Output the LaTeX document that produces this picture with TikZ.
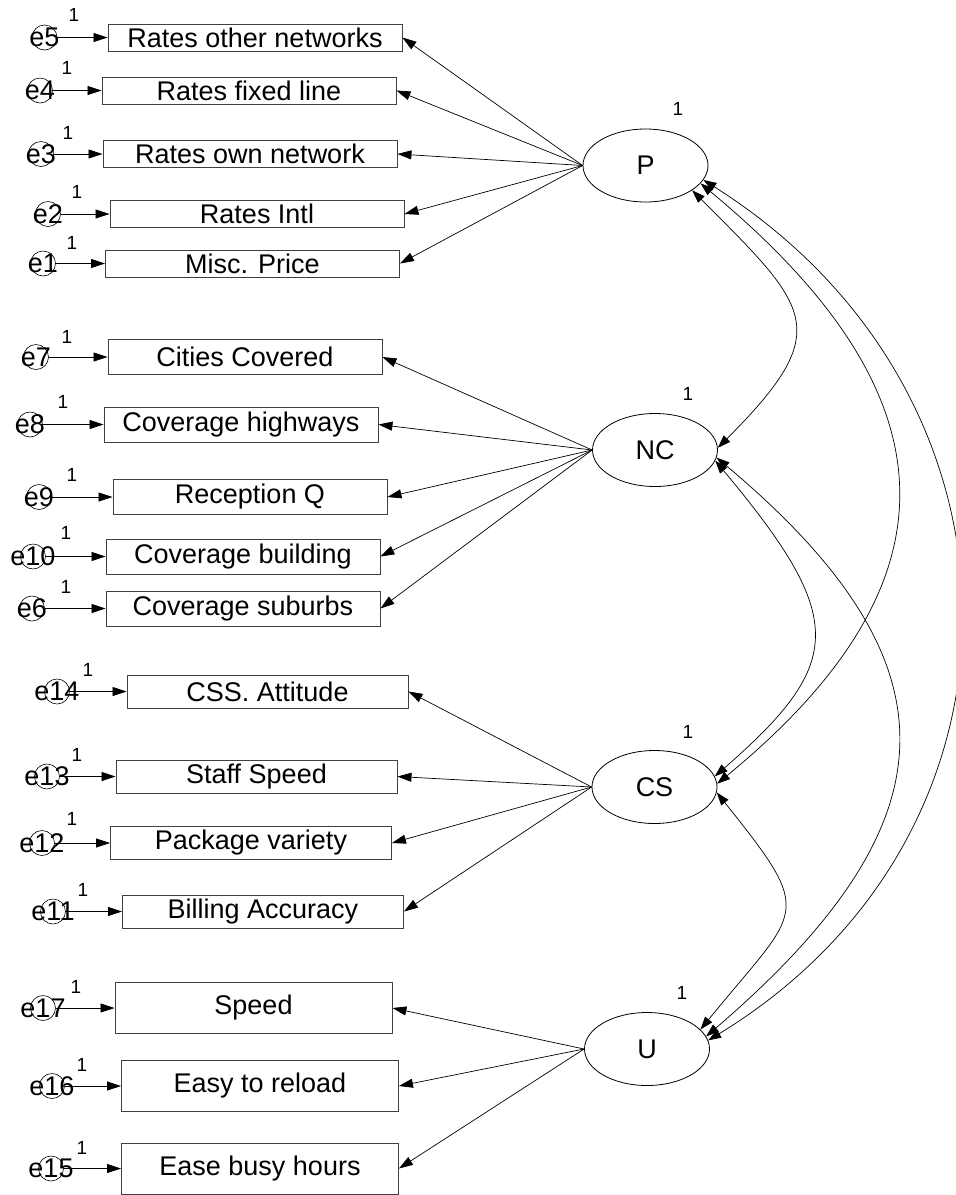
\documentclass[tikz,border=0pt]{standalone}
\usepackage{fontspec}
\setmainfont{Liberation Sans}
\usetikzlibrary{shapes.geometric,arrows.meta}
\begin{document}
\begin{tikzpicture}[x=1pt,y=-1pt,
  txt/.style={font=\fontsize{27}{30}\selectfont},
  obs/.style={draw=black!75, line width=0.9pt, rectangle, inner sep=0pt, txt},
  lat/.style={draw, ellipse, line width=0.8pt, minimum width=125pt, minimum height=73pt, inner sep=0pt, txt},
  err/.style={draw, circle, line width=0.6pt, minimum size=25pt, inner sep=0pt},
  one/.style={font=\fontsize{19}{21}\selectfont, inner sep=0pt},
  arr/.style={-{Triangle[length=14pt,width=9pt]}, line width=0.7pt},
  cov/.style={{Triangle[length=13pt,width=9pt]}-{Triangle[length=13pt,width=9pt]}, line width=0.7pt},
  pg/.style={obs, minimum width=294pt, minimum height=27pt},
  ncg/.style={obs, minimum width=274pt, minimum height=35pt},
  csg/.style={obs, minimum width=281pt, minimum height=33pt},
  ug/.style={obs, minimum width=277pt, minimum height=51pt},
]
\useasboundingbox (0,0) rectangle (956,1195);

% latent variables
\node[lat] (P)  at (645.5,165.5) {P};
\node[lat] (NC) at (655,450) {NC};
\node[lat] (CS) at (654.5,787) {CS};
\node[lat] (U)  at (647,1049) {U};
\node[one] (lP)  at (678,109) {1};
\node[one] (lNC) at (688,394) {1};
\node[one] (lCS) at (688,732) {1};
\node[one] (lU)  at (682,993) {1};

% observed: P
\node[pg] (r5) at (255,37.5) {Rates other networks};
\node[pg] (r4) at (249,90.5) {Rates fixed line};
\node[pg] (r3) at (250,154) {Rates own network};
\node[pg] (r2) at (257,214) {Rates Intl};
\node[pg] (r1) at (252.5,263.5) {Misc. Price};
% observed: NC
\node[ncg] (r7)  at (245,357) {Cities Covered};
\node[ncg] (r8)  at (241,424.5) {Coverage highways};
\node[ncg] (r9)  at (250,497) {Reception Q};
\node[ncg] (r10) at (243,556.5) {Coverage building};
\node[ncg] (r6)  at (243,608.5) {Coverage suburbs};
% observed: CS
\node[csg] (r14) at (267.5,691.5) {CSS. Attitude};
\node[csg] (r13) at (256.5,776.5) {Staff Speed};
\node[csg] (r12) at (251,843) {Package variety};
\node[csg] (r11) at (263,911.5) {Billing Accuracy};
% observed: U
\node[ug] (r17) at (253.5,1008) {Speed};
\node[ug] (r16) at (260,1086) {Easy to reload};
\node[ug] (r15) at (260,1168.5) {Ease busy hours};

% error terms
\foreach \n/\x/\y/\ox/\oy in {
  5/44.5/37.5/74/15, 4/40/90.5/67/68, 3/41/154/68/133, 2/48/214/77/192, 1/43/263.5/72/243,
  7/36/357/67/337, 8/30/424.5/63/402, 9/39/497/72/475, 10/33/556.5/66/533, 6/32/608.5/66/587,
  14/57/691.5/88/670, 13/47/776.5/77/755, 12/42/843/72/819, 11/53/911.5/83/890,
  17/43/1008/76/987, 16/52/1086/82/1065, 15/51/1168.5/82/1148}{
  \node[err, label={[txt]center:e\n}] (e\n) at (\x,\y) {};
  \node[one] (w\n) at (\ox,\oy) {1};
  \draw[arr] (e\n) -- (r\n);
}

% loadings
\foreach \r in {5,4,3,2,1} { \draw[arr] (P.west) -- (r\r.east); }
\foreach \r in {7,8,9,10,6} { \draw[arr] (NC.west) -- (r\r.east); }
\foreach \r in {14,13,12,11} { \draw[arr] (CS.west) -- (r\r.east); }
\foreach \r in {17,16,15} { \draw[arr] (U.west) -- (r\r.east); }

% covariances
\draw[cov] (P.-28) .. controls +(118,118) and +(118,-118) .. (NC.2);
\draw[cov] (P.-18) .. controls +(251,208) and +(251,-206) .. (CS.3);
\draw[cov] (P.-14) .. controls +(339,214) and +(339,-207) .. (U.8);
\draw[cov] (NC.-10) .. controls +(131,157) and +(131,-114) .. (CS.10);
\draw[cov] (NC.-7) .. controls +(248,208) and +(248,-213) .. (U.12);
\draw[cov] (CS.-5) .. controls +(100,125) and +(100,-123) .. (U.20);
\end{tikzpicture}
\end{document}
